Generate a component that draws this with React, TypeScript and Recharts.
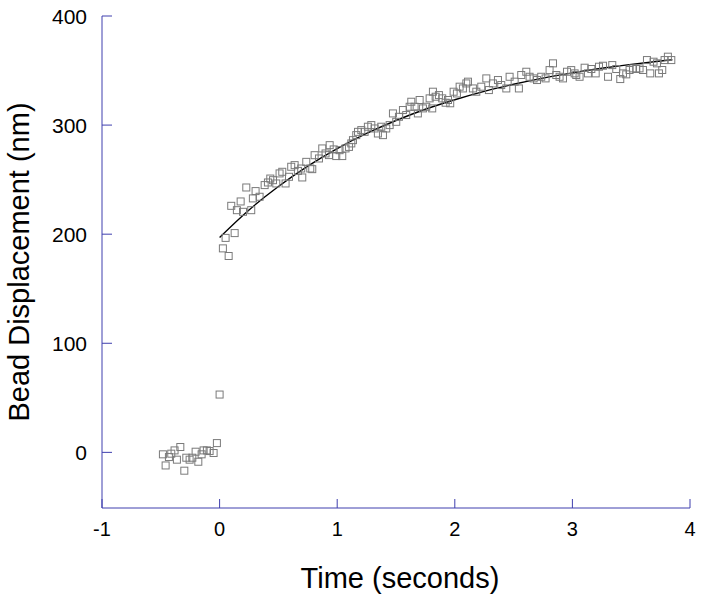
import { ComposedChart, Scatter, Line, XAxis, YAxis } from "recharts";

// measured bead positions (seconds, nm)
const obsTime = [
  -0.482, -0.459, -0.431, -0.411, -0.383, -0.363, -0.334, -0.3, -0.283, -0.255,
  -0.232, -0.204, -0.181, -0.153, -0.136, -0.108, -0.085, -0.051, -0.023, 0.0,
  0.028, 0.051, 0.077, 0.099, 0.128, 0.147, 0.179, 0.199, 0.227, 0.269,
  0.283, 0.306, 0.34, 0.383, 0.411, 0.431, 0.454, 0.482, 0.51, 0.533,
  0.561, 0.59, 0.609, 0.638, 0.666, 0.694, 0.703, 0.737, 0.771, 0.788,
  0.808, 0.845, 0.873, 0.901, 0.93, 0.936, 0.97, 0.992, 1.02, 1.043,
  1.071, 1.1, 1.12, 1.134, 1.162, 1.177, 1.205, 1.233, 1.261, 1.29,
  1.318, 1.346, 1.375, 1.389, 1.417, 1.446, 1.474, 1.502, 1.525, 1.559,
  1.587, 1.616, 1.63, 1.658, 1.686, 1.701, 1.729, 1.757, 1.786, 1.808,
  1.814, 1.837, 1.865, 1.893, 1.922, 1.942, 1.961, 1.99, 2.018, 2.041,
  2.069, 2.098, 2.112, 2.154, 2.183, 2.225, 2.268, 2.29, 2.324, 2.367,
  2.395, 2.438, 2.466, 2.509, 2.545, 2.565, 2.608, 2.636, 2.67, 2.699,
  2.735, 2.772, 2.806, 2.835, 2.863, 2.891, 2.92, 2.954, 2.99, 3.019,
  3.033, 3.061, 3.104, 3.132, 3.161, 3.198, 3.226, 3.26, 3.303, 3.339,
  3.373, 3.407, 3.43, 3.458, 3.486, 3.515, 3.543, 3.571, 3.6, 3.634,
  3.662, 3.69, 3.719, 3.736, 3.764, 3.784, 3.812, 3.841,
];
const obsDisp = [
  -1.8, -12, -4.3, -1.2, 1.8, -6.7, 4.9, -16.8, -4.9, -6.7,
  -4.9, 0.6, -8.6, -1.8, 1.8, 1.8, 1.2, -0.6, 8.5, 53,
  187, 196.6, 180, 226, 201, 222, 230, 220.5, 242.8, 222,
  232.8, 239.5, 234.3, 245, 247.4, 251, 249.5, 246.5, 255.7, 257.2,
  246.5, 252.6, 261.8, 263.3, 258, 260.2, 252, 266.3, 260.2, 259.6,
  272.4, 269.4, 278.6, 274, 272.5, 281.6, 277.7, 271.6, 277, 271.6,
  278.6, 280, 283.2, 286.2, 290.8, 293.8, 295.4, 293.8, 298.5, 300,
  296.9, 292.3, 298.5, 290.8, 296.9, 300, 310.7, 303, 307.6, 313.8,
  309.2, 316.8, 321.4, 316.8, 310.7, 323, 315.3, 316.8, 324.5, 315.3,
  330.6, 326, 327.5, 324.5, 320.5, 323, 320, 330.6, 329, 335.2,
  333.6, 338.2, 339.8, 333.6, 330.6, 335.2, 342.8, 332.1, 338.2, 341.3,
  336.7, 333.6, 344.3, 339.8, 333.6, 345.9, 348.9, 344.3, 342.8, 341.3,
  344.3, 342.8, 350.4, 356.6, 345.9, 344.3, 342.8, 348.9, 350.4, 347.4,
  345.9, 344.3, 352.6, 347.4, 351.4, 347.4, 353.5, 354.4, 344.3, 355,
  351.4, 342.2, 347.4, 346.5, 350.5, 352, 351.4, 352, 350.5, 359.6,
  347.4, 358.1, 356.6, 347.4, 350.5, 359.6, 362.7, 359.6,
];

// fitted curve
const fitTime = [0, 0.25, 0.5, 0.75, 1, 1.25, 1.5, 1.75, 2, 2.25, 2.5, 2.75, 3, 3.25, 3.5, 3.75, 3.85];
const fitDisp = [197, 222.2, 243.7, 262.4, 278.5, 292.3, 304.2, 314.5, 323.2, 330.9, 337.4, 343.1, 347.9, 352.1, 355.7, 358.8, 359.9];

const xTicks = [-1, 0, 1, 2, 3, 4];
const yTicks = [0, 100, 200, 300, 400];

const points = obsTime.map((t, i) => ({ t, v: obsDisp[i] }));
const fit = fitTime.map((t, i) => ({ t, v: fitDisp[i] }));

const axisColor = "#3f3fae";
const font = "'Liberation Sans', Arial, sans-serif";

const SquareMark = (props: any) => {
  const { cx, cy } = props;
  if (cx == null || cy == null) return null;
  return <rect x={cx - 3.5} y={cy - 3.5} width={7} height={7} fill="none" stroke="#7a7a7a" strokeWidth={1} />;
};

const XTick = (props: any) => {
  const { x, y, payload } = props;
  return (
    <text x={x} y={y} dy="0.72em" textAnchor="middle" fill="#000" fontSize={20} fontFamily={font}>
      {payload.value}
    </text>
  );
};

const YTick = (props: any) => {
  const { x, y, payload } = props;
  return (
    <text x={x} y={y} dy="0.36em" textAnchor="end" fill="#000" fontSize={21} fontFamily={font}>
      {payload.value}
    </text>
  );
};

export default function App() {
  return (
    <div style={{ position: "absolute", left: 0, top: 0, background: "#fff", fontFamily: font }}>
      <ComposedChart width={701} height={596} margin={{ top: 16, right: 11, bottom: 0, left: 0 }}>
        <XAxis
          dataKey="t"
          type="number"
          domain={[-1, 4]}
          ticks={xTicks}
          height={88}
          stroke={axisColor}
          tickSize={-9}
          tickMargin={23}
          tick={<XTick />}
          label={{ value: "Time (seconds)", position: "insideBottom", offset: 8, dx: 4, fill: "#000", fontSize: 29, fontFamily: font }}
          allowDataOverflow
        />
        <YAxis
          dataKey="v"
          type="number"
          domain={[-51, 400]}
          ticks={yTicks}
          width={102}
          stroke={axisColor}
          tickSize={-10}
          tickMargin={25}
          tick={<YTick />}
          label={{ value: "Bead Displacement (nm)", angle: -90, position: "insideLeft", offset: 19, fill: "#000", fontSize: 29, fontFamily: font, style: { textAnchor: "middle" } }}
          allowDataOverflow
        />
        <Scatter data={points} dataKey="v" shape={SquareMark} isAnimationActive={false} />
        <Line data={fit} dataKey="v" type="monotone" stroke="#000" strokeWidth={1.4} dot={false} activeDot={false} isAnimationActive={false} />
      </ComposedChart>
    </div>
  );
}
